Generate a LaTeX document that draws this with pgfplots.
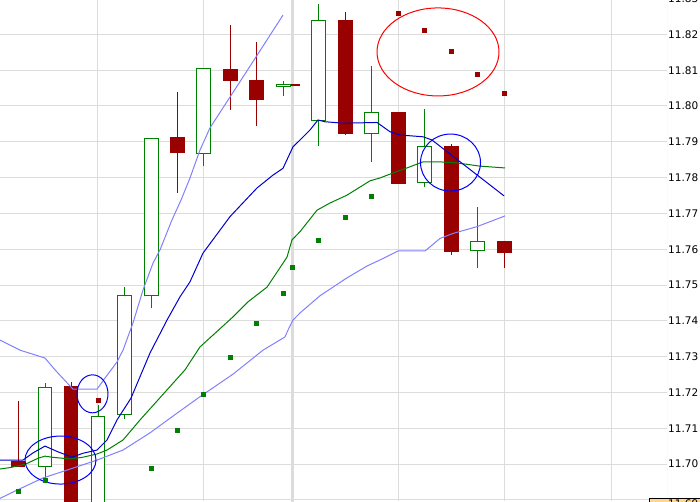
\documentclass[border=0pt]{standalone}
\usepackage{pgfplots}
\usepackage{pgfplotstable}
\pgfplotsset{compat=1.18}
\usepackage{fontspec}
\setmainfont{DejaVu Sans}
\definecolor{cGreen}{RGB}{0,128,0}
\definecolor{cRed}{RGB}{153,0,0}
\definecolor{cBlue}{RGB}{0,0,204}
\definecolor{cLight}{RGB}{128,128,255}
\definecolor{cGrid}{RGB}{220,220,220}
\definecolor{cBox}{RGB}{255,214,140}

% red (falling) candles: x o h l c
\pgfplotstableread{
x o h l c
18 11.7008 11.7176 11.6992 11.6992
71 11.7218 11.7228 11.686 11.687
177.3 11.7913 11.8040 11.7758 11.7870
230.3 11.8103 11.8226 11.7990 11.8071
256.3 11.8073 11.8179 11.7945 11.8018
292.5 11.8061 11.8061 11.8055 11.8055
345.7 11.8239 11.8263 11.7919 11.7923
398.3 11.7983 11.7983 11.7783 11.7783
451.7 11.7888 11.7893 11.7584 11.7593
504.3 11.7623 11.7623 11.7548 11.7589
}\redtab

% green (rising) candles: x o h l c
\pgfplotstableread{
x o h l c
45 11.6992 11.7226 11.6956 11.7214
98 11.687 11.7164 11.686 11.7134
124.3 11.7136 11.7494 11.7127 11.7471
151.3 11.7468 11.7910 11.7435 11.7910
203.3 11.7865 11.8105 11.7833 11.8105
283.3 11.8052 11.8070 11.8029 11.8061
318.3 11.7957 11.8285 11.7889 11.8239
371.5 11.7921 11.8112 11.7844 11.7982
424.5 11.7784 11.7992 11.7775 11.7887
477.3 11.7594 11.7718 11.7548 11.7622
}\greentab

\pgfplotsset{candle/.style={only marks, mark size=0pt, mark options={draw=none,fill=none}, forget plot,
  error bars/.cd, y dir=plus, y explicit, error mark=none}}

\begin{document}
\begin{tikzpicture}
\useasboundingbox (0,0) rectangle (700pt,501pt);
\clip (0,0) rectangle (700pt,501pt);
\begin{axis}[
  at={(0,0)}, anchor=south west,
  scale only axis, width=667pt, height=501pt,
  xmin=0, xmax=667, ymin=11.689665, ymax=11.829609,
  axis line style={draw=none},
  xtick={97,203,292,398,504,611}, xticklabels={},
  ytick={11.69,11.70,11.71,11.72,11.73,11.74,11.75,11.76,11.77,11.78,11.79,11.80,11.81,11.82},
  yticklabels={,11.70,11.71,11.72,11.73,11.74,11.75,11.76,11.77,11.78,11.79,11.80,11.81,11.82},
  scaled y ticks=false,
  grid=major, grid style={cGrid, line width=1pt},
  major tick length=0pt,
  ytick pos=right, yticklabel pos=right,
  yticklabel style={font=\fontsize{10.5}{12}\selectfont, anchor=west, inner sep=0pt, xshift=1pt},
  clip=true,
]
% session separator and right frame
\draw[cGrid, line width=3pt] (axis cs:292,11.68) -- (axis cs:292,11.84);
\draw[cGrid, line width=1pt] (rel axis cs:1,0) -- (rel axis cs:1,1);

% wicks
\addplot[candle, error bar style={line width=1pt, draw=cRed}]
  table[x=x, y=l, y error plus expr={\thisrow{h}-\thisrow{l}}] {\redtab};
\addplot[candle, error bar style={line width=1pt, draw=cGreen}]
  table[x=x, y=l, y error plus expr={\thisrow{h}-\thisrow{l}}] {\greentab};
% red bodies
\addplot[candle, error bar style={line width=14.5pt, draw=cRed}]
  table[x=x, y=c, y error plus expr={\thisrow{o}-\thisrow{c}}] {\redtab};
% green hollow bodies
\addplot[candle, error bar style={line width=14.5pt, draw=cGreen}]
  table[x=x, y=o, y error plus expr={\thisrow{c}-\thisrow{o}}] {\greentab};
\addplot[candle, error bar style={line width=12.5pt, draw=white}]
  table[x=x, y expr={\thisrow{o}+0.00028}, y error plus expr={\thisrow{c}-\thisrow{o}-0.00056}] {\greentab};

% upper light band
\addplot[cLight, line width=1pt, mark=none] coordinates {
(0,11.7346) (20,11.7318) (45,11.7296) (55,11.7263) (70,11.7218) (73,11.7209) (97,11.7209)
(105,11.7240) (117,11.7285) (123,11.7318) (133,11.7394) (143,11.7486) (153,11.7561)
(160,11.7598) (172,11.7682) (181,11.7737) (190,11.7799) (200,11.7877) (210,11.7939)
(230,11.8025) (256,11.8137) (283,11.8254)};
% lower light band
\addplot[cLight, line width=1pt, mark=none] coordinates {
(0,11.6904) (17,11.6927) (43,11.6961) (67,11.6983) (97,11.7011) (123,11.7039) (150,11.7087)
(177,11.7142) (200,11.7188) (233,11.7251) (263,11.7318) (285,11.7355) (288,11.7374)
(293,11.7402) (300,11.7422) (320,11.7470) (347,11.7520) (367,11.7553) (380,11.7570)
(398,11.7595) (425,11.7595) (440,11.7630) (453,11.7644) (477,11.7663) (505,11.7693)};
% green average
\addplot[cGreen, line width=1pt, mark=none] coordinates {
(0,11.6986) (10,11.6990) (25,11.6999) (38,11.7016) (45,11.7022) (52,11.7019) (70,11.7014)
(83,11.7019) (97,11.7028) (107,11.7039) (123,11.7067) (140,11.7123) (167,11.7207)
(185,11.7263) (200,11.7327) (233,11.7411) (248,11.7453) (267,11.7494) (283,11.7561)
(287,11.7578) (292,11.7626) (300,11.7649) (317,11.7709) (330,11.7729) (347,11.7751)
(370,11.7791) (380,11.7799) (393,11.7813) (407,11.7827) (423,11.7844) (440,11.7844)
(457,11.7841) (480,11.7832) (505,11.7827)};
% blue average
\addplot[cBlue, line width=1pt, mark=none] coordinates {
(0,11.7011) (23,11.7011) (33,11.7031) (45,11.7050) (58,11.7034) (72,11.7019) (83,11.7030)
(97,11.7039) (107,11.7067) (117,11.7123) (131,11.7184) (150,11.7310) (167,11.7402)
(180,11.7467) (190,11.7509) (203,11.7589) (230,11.7691) (257,11.7771) (273,11.7807)
(283,11.7826) (293,11.7886) (300,11.7905) (310,11.7933) (318,11.7961) (325,11.7956)
(343,11.7952) (377,11.7954) (390,11.7928) (400,11.7919) (423,11.7914) (432,11.7905)
(504,11.7749)};

% dots
\addplot[only marks, mark=square*, mark size=2pt, color=cGreen] coordinates {
(18,11.6925) (45,11.6956) (150.7,11.6989) (177,11.7095) (203,11.7196) (229.7,11.7299)
(256,11.7392) (282.7,11.7476) (292,11.7550) (318,11.7624) (345,11.7690) (371,11.7749)};
\addplot[only marks, mark=square*, mark size=2pt, color=cRed] coordinates {
(98,11.7177) (398,11.8260) (424,11.8212) (451,11.8152) (477,11.8090) (504,11.8037)};

% annotation ellipses
\draw[blue, line width=1pt] (axis cs:60.5,11.7011) ellipse [x radius=35.5pt, y radius=24pt];
\draw[blue, line width=1pt] (axis cs:92.5,11.7196) ellipse [x radius=15.5pt, y radius=19pt];
\draw[red, line width=1pt] (axis cs:438,11.8151) ellipse [x radius=61pt, y radius=44pt];
\draw[blue, line width=1pt] (axis cs:450.5,11.7842) ellipse [x radius=30pt, y radius=28.5pt];
\end{axis}
\node[anchor=west, inner sep=0pt, font=\fontsize{10.5}{12}\selectfont] at (668pt,502.4pt) {11.83};
\node[draw=black, fill=cBox, line width=0.8pt, anchor=north west, minimum width=52pt, minimum height=16pt, inner sep=0pt] at (649.4pt,3pt) {};
\node[anchor=north west, inner sep=0pt, font=\fontsize{10.5}{12}\selectfont] at (668pt,1.8pt) {11.69};
\end{tikzpicture}
\end{document}
